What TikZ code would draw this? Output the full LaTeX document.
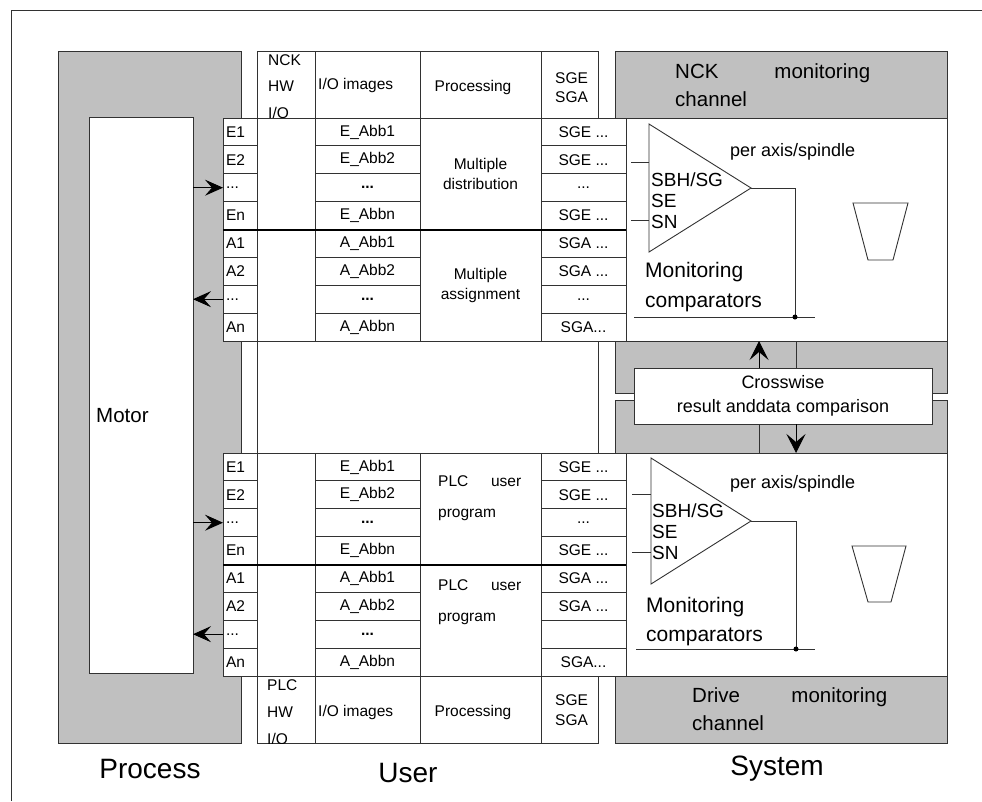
\documentclass[tikz,border=0pt]{standalone}
\usepackage{fontspec}
\setmainfont{Liberation Sans}
\usetikzlibrary{arrows.meta,calc,positioning}

\definecolor{panelgray}{RGB}{192,192,192}
\definecolor{linegray}{RGB}{50,50,50}

\begin{document}
\begin{tikzpicture}[
  x=1pt, y=-1pt,
  font=\fontsize{15.5}{20}\selectfont,
  outline/.style={draw=linegray,line width=0.9pt},
  gbox/.style={outline,fill=panelgray,inner sep=0pt,outer sep=0pt},
  wbox/.style={outline,fill=white,inner sep=0pt,outer sep=0pt},
  lblcell/.style={wbox,minimum width=34pt,minimum height=27.875pt,
                  text width=28pt,inner xsep=3pt,align=left},
  iocell/.style={wbox,minimum width=105pt,minimum height=27.875pt},
  sgcell/.style={wbox,minimum width=85pt,minimum height=27.875pt},
  tallcell/.style={wbox,minimum height=111.5pt},
  hdcell/.style={wbox,minimum height=67pt},
  txt/.style={inner sep=0pt,align=left},
  divider/.style={draw=black,line width=2pt},
  inarr/.style={draw=black,line width=0.9pt,-{Stealth[length=18pt,width=16pt,inset=7pt]}},
  xarr/.style={draw=black,line width=1pt,-{Stealth[length=19pt,width=19pt,inset=8pt]}},
]
\useasboundingbox (0,0) rectangle (982,801);

%% =====================================================
%%  Frame, process and motor
%% =====================================================
\draw[outline] (11,801) -- (11,10) -- (982,10);

\node[gbox,minimum width=183pt,minimum height=692pt] (process) at (149.5,397) {};
\node[wbox,minimum width=104pt,minimum height=556pt] (motor) at (141,395) {};
\node[txt,font=\fontsize{20.5}{24}\selectfont,anchor=west] (motorlbl) at (96,416) {Motor};

%% =====================================================
%%  User column with headers
%% =====================================================
\node[wbox,minimum width=341pt,minimum height=692pt] (user) at (427.5,397) {};

% --- NCK header ---
\node[hdcell,minimum width=58pt] (nhdhw) at (286,84.5) {};
\node[hdcell,minimum width=105pt] (nhdio) at (367.5,84.5) {};
\node[hdcell,minimum width=121pt] (nhdproc) at (480.5,84.5) {};
\node[hdcell,minimum width=57pt] (nhdsg) at (569.5,84.5) {};
\node[txt,font=\fontsize{15.5}{26.5}\selectfont,anchor=west] (nckhw) at (268,86.5) {NCK\\HW\\I/O};
\node[txt,anchor=west] (nckio) at (318,85) {I/O images};
\node[txt] (nckproc) at (473,87) {Processing};
\node[txt,font=\fontsize{15.5}{19}\selectfont,anchor=west] (ncksg) at (555,87.5) {SGE\\SGA};

% --- PLC header ---
\node[hdcell,minimum width=58pt] (phdhw) at (286,709.5) {};
\node[hdcell,minimum width=105pt] (phdio) at (367.5,709.5) {};
\node[hdcell,minimum width=121pt] (phdproc) at (480.5,709.5) {};
\node[hdcell,minimum width=57pt] (phdsg) at (569.5,709.5) {};
\begin{scope}
  \clip (257,676) rectangle (315,743);
  \node[txt,font=\fontsize{15.5}{27}\selectfont,anchor=west] (plchw) at (267,712) {PLC\\HW\\I/O};
\end{scope}
\node[txt,anchor=west] (plcio) at (318,712) {I/O images};
\node[txt] (plcproc) at (473,712) {Processing};
\node[txt,font=\fontsize{15.5}{20}\selectfont,anchor=west] (plcsg) at (555,710) {SGE\\SGA};

%% =====================================================
%%  System column: channels and crosswise comparison
%% =====================================================
\node[gbox,minimum width=332pt,minimum height=67pt] (nckhead) at (781,84.5) {};
\node[gbox,minimum width=332pt,minimum height=52pt] (xgray1) at (781,367) {};
\node[gbox,minimum width=332pt,minimum height=53pt] (xgray2) at (781,426.5) {};
\node[gbox,minimum width=332pt,minimum height=67pt] (drvhead) at (781,709.5) {};
\node[wbox,minimum width=321pt,minimum height=223pt] (nckpanel) at (786.5,229.5) {};
\node[wbox,minimum width=321pt,minimum height=223pt] (drvpanel) at (786.5,564.5) {};

\node[txt,font=\fontsize{20.5}{28}\selectfont,text width=195pt,anchor=west]
     (ncktitle) at (675,85.5) {NCK\hfill monitoring\\channel};
\node[txt,font=\fontsize{20.5}{28}\selectfont,text width=195pt,anchor=west]
     (drvtitle) at (692,709) {Drive\hfill monitoring\\channel};

\node[wbox,minimum width=298pt,minimum height=56pt,align=center,
      font=\fontsize{18}{24}\selectfont] (cross) at (783,396)
     {Crosswise\\result anddata comparison};

\coordinate (xup) at ($(cross.north west)+(125,0)$);
\coordinate (xrt) at ($(cross.north west)+(162,0)$);
\coordinate (xlf) at ($(cross.south west)+(125,0)$);
\coordinate (xdn) at ($(cross.south west)+(162,0)$);
\draw[xarr] (xup) -- (xup |- nckpanel.south);
\draw[outline] (xrt) -- (xrt |- nckpanel.south);
\draw[outline] (xlf) -- (xlf |- drvpanel.north);
\draw[xarr] (xdn) -- (xdn |- drvpanel.north);

%% =====================================================
%%  NCK table
%% =====================================================
\node[lblcell] (ne1) at (240,131.94) {E1};
\node[lblcell,below=0pt of ne1] (ne2) {E2};
\node[lblcell,below=0pt of ne2] (nedots) {...};
\node[lblcell,below=0pt of nedots] (nen) {En};
\node[lblcell,below=0pt of nen] (na1) {A1};
\node[lblcell,below=0pt of na1] (na2) {A2};
\node[lblcell,below=0pt of na2] (nadots) {...};
\node[lblcell,below=0pt of nadots] (nan) {An};

\node[tallcell,minimum width=58pt] (nhw1) at (286,173.75) {};
\node[tallcell,minimum width=58pt] (nhw2) at (286,285.25) {};

\node[iocell] (nie1) at (367.5,131.94) {E\_Abb1};
\node[iocell,below=0pt of nie1] (nie2) {E\_Abb2};
\node[iocell,below=0pt of nie2] (niedots) {\textbf{...}};
\node[iocell,below=0pt of niedots] (nien) {E\_Abbn};
\node[iocell,below=0pt of nien] (nia1) {A\_Abb1};
\node[iocell,below=0pt of nia1] (nia2) {A\_Abb2};
\node[iocell,below=0pt of nia2] (niadots) {\textbf{...}};
\node[iocell,below=0pt of niadots] (nian) {A\_Abbn};

\node[tallcell,minimum width=121pt,align=center] (nproc1) at (480.5,173.75) {Multiple\\distribution};
\node[tallcell,minimum width=121pt,align=center] (nproc2) at (480.5,285.25) {Multiple\\assignment};

\node[sgcell] (nse1) at (583.5,131.94) {SGE ...};
\node[sgcell,below=0pt of nse1] (nse2) {SGE ...};
\node[sgcell,below=0pt of nse2] (nsedots) {...};
\node[sgcell,below=0pt of nsedots] (nsen) {SGE ...};
\node[sgcell,below=0pt of nsen] (nsa1) {SGA ...};
\node[sgcell,below=0pt of nsa1] (nsa2) {SGA ...};
\node[sgcell,below=0pt of nsa2] (nsadots) {...};
\node[sgcell,below=0pt of nsadots] (nsan) {SGA...};

\draw[divider] (nen.south west) -- (nsen.south east);

%% =====================================================
%%  PLC table
%% =====================================================
\node[lblcell] (pe1) at (240,466.94) {E1};
\node[lblcell,below=0pt of pe1] (pe2) {E2};
\node[lblcell,below=0pt of pe2] (pedots) {...};
\node[lblcell,below=0pt of pedots] (pen) {En};
\node[lblcell,below=0pt of pen] (pa1) {A1};
\node[lblcell,below=0pt of pa1] (pa2) {A2};
\node[lblcell,below=0pt of pa2] (padots) {...};
\node[lblcell,below=0pt of padots] (pan) {An};

\node[tallcell,minimum width=58pt] (phw1) at (286,508.75) {};
\node[tallcell,minimum width=58pt] (phw2) at (286,620.25) {};

\node[iocell] (pie1) at (367.5,466.94) {E\_Abb1};
\node[iocell,below=0pt of pie1] (pie2) {E\_Abb2};
\node[iocell,below=0pt of pie2] (piedots) {\textbf{...}};
\node[iocell,below=0pt of piedots] (pien) {E\_Abbn};
\node[iocell,below=0pt of pien] (pia1) {A\_Abb1};
\node[iocell,below=0pt of pia1] (pia2) {A\_Abb2};
\node[iocell,below=0pt of pia2] (piadots) {\textbf{...}};
\node[iocell,below=0pt of piadots] (pian) {A\_Abbn};

\node[tallcell,minimum width=121pt] (pproc1) at (480.5,508.75) {};
\node[tallcell,minimum width=121pt] (pproc2) at (480.5,620.25) {};
\node[txt,font=\fontsize{15.5}{31}\selectfont,text width=83pt,anchor=west]
     (puser1) at (438,498.5) {PLC\hfill user\\program};
\node[txt,font=\fontsize{15.5}{31}\selectfont,text width=83pt,anchor=west]
     (puser2) at (438,602.5) {PLC\hfill user\\program};

\node[sgcell] (pse1) at (583.5,466.94) {SGE ...};
\node[sgcell,below=0pt of pse1] (pse2) {SGE ...};
\node[sgcell,below=0pt of pse2] (psedots) {...};
\node[sgcell,below=0pt of psedots] (psen) {SGE ...};
\node[sgcell,below=0pt of psen] (psa1) {SGA ...};
\node[sgcell,below=0pt of psa1] (psa2) {SGA ...};
\node[sgcell,below=0pt of psa2] (psadots) {};
\node[sgcell,below=0pt of psadots] (psan) {SGA...};

\draw[divider] (pen.south west) -- (psen.south east);

% --- process signals in and out ---
\draw[inarr] (motor.east |- nedots) -- (nedots.west);
\draw[inarr] (nadots.west) -- (motor.east |- nadots);
\draw[inarr] (motor.east |- pedots) -- (pedots.west);
\draw[inarr] (padots.west) -- (motor.east |- padots);

%% =====================================================
%%  Monitoring comparators
%% =====================================================
% --- NCK channel ---
\coordinate (ncmp) at (751,188);
\coordinate (nbus) at (795,317);
\draw[outline] (649,124) -- (ncmp) -- (649,252) -- cycle;
\draw[outline] (631,162) -- (649,162);
\draw[outline] (631,220) -- (649,220);
\draw[outline] (ncmp) -| (nbus);
\draw[outline] (634,317) -- (815,317);
\fill[black] (nbus) circle[radius=2.5pt];
\draw[outline] (853,203) -- (908,203) -- (893,260) -- (868,260) -- cycle;

\node[txt,font=\fontsize{18}{22}\selectfont,anchor=west] (naxis) at (730,152) {per axis/spindle};
\node[txt,font=\fontsize{19}{21}\selectfont,anchor=west] (nsig) at (651,201) {SBH/SG\\SE\\SN};
\node[txt,font=\fontsize{21}{30}\selectfont,anchor=west] (nmon) at (645,287) {Monitoring\\comparators};

% --- Drive channel ---
\coordinate (dcmp) at (751,521);
\coordinate (dbus) at (796,649);
\draw[outline] (651,458) -- (dcmp) -- (651,584) -- cycle;
\draw[outline] (632,494) -- (651,494);
\draw[outline] (632,552) -- (651,552);
\draw[outline] (dcmp) -| (dbus);
\draw[outline] (636,649) -- (815,649);
\fill[black] (dbus) circle[radius=2.5pt];
\draw[outline] (852,546) -- (906,546) -- (891,602) -- (868,602) -- cycle;

\node[txt,font=\fontsize{18}{22}\selectfont,anchor=west] (daxis) at (730,484) {per axis/spindle};
\node[txt,font=\fontsize{19}{21}\selectfont,anchor=west] (dsig) at (652,531.5) {SBH/SG\\SE\\SN};
\node[txt,font=\fontsize{21}{29}\selectfont,anchor=west] (dmon) at (646,622) {Monitoring\\comparators};

%% =====================================================
%%  Area labels
%% =====================================================
\node[txt,font=\fontsize{28}{32}\selectfont] (proclbl) at (150,769) {Process};
\node[txt,font=\fontsize{28}{32}\selectfont] (userlbl) at (408,773) {User};
\node[txt,font=\fontsize{28}{32}\selectfont] (syslbl) at (777,769) {System};

\end{tikzpicture}
\end{document}
